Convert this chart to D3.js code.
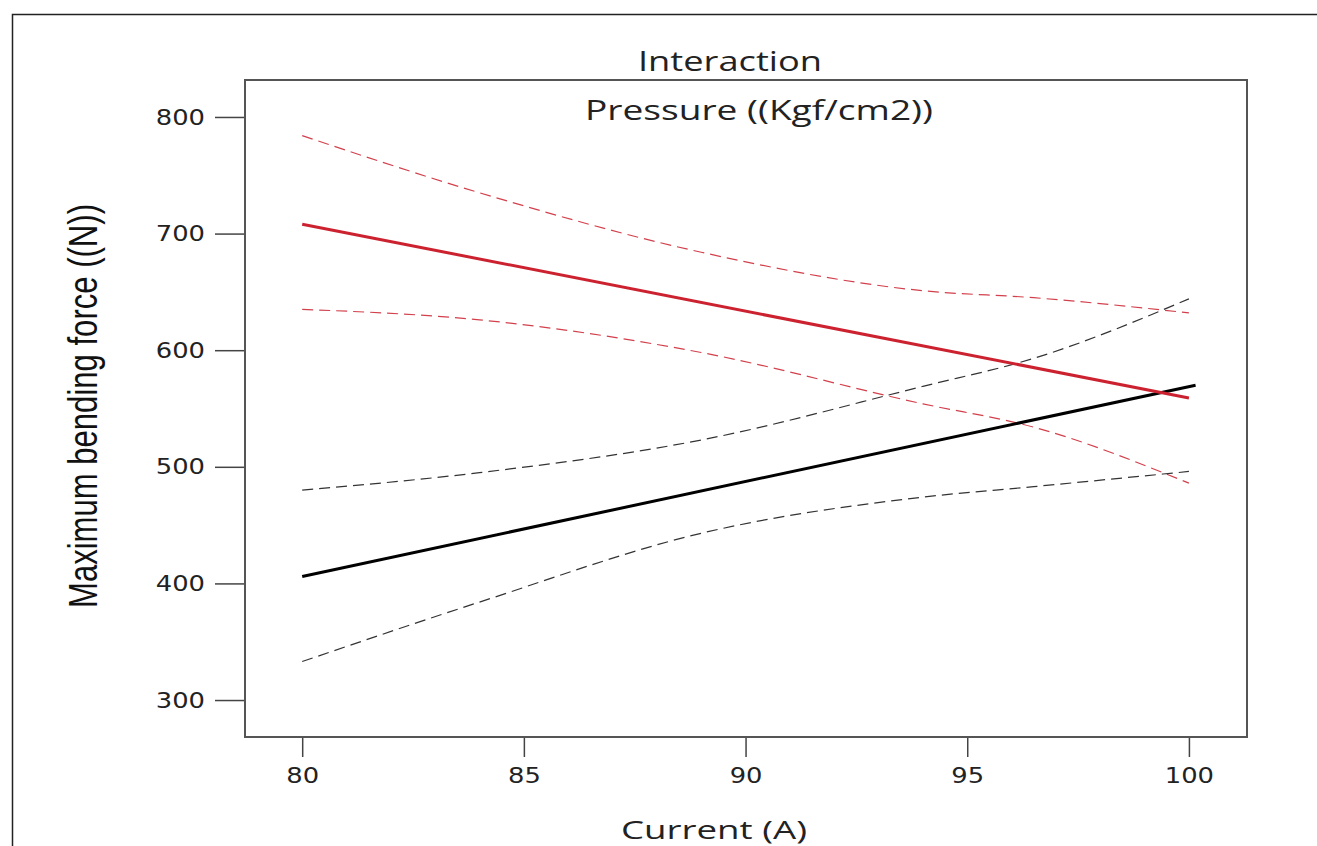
<!DOCTYPE html>
<html>
<head>
<meta charset="utf-8">
<script src="https://cdn.jsdelivr.net/npm/d3@7"></script>
<style>
  body { margin: 0; background: #fff; }
</style>
</head>
<body>
<div id="chart"></div>
<script>
// values
var bandX = [80, 84, 89, 94, 96.5, 100];
var redUpper = [784, 735, 684, 651, 645, 632];
var redLower = [635, 626, 598, 554, 534, 486];
var blackUpper = [480, 495, 523, 569, 593, 644];
var blackLower = [333, 384, 443, 474, 483, 496];

var redFitX = [80, 100];
var redFit = [708, 559];
var blackFitX = [80, 100.15];
var blackFit = [406, 570];

var xTicks = [80, 85, 90, 95, 100];
var yTicks = [300, 400, 500, 600, 700, 800];

var W = 1317, H = 846;
var frame = { left: 245, top: 80, right: 1247, bottom: 737 };

var svg = d3.select("#chart").append("svg")
    .attr("width", W)
    .attr("height", H);

// outer border (only top and left visible)
svg.append("path")
    .attr("d", "M12.5,846 L12.5,14.5 L1317,14.5")
    .attr("fill", "none")
    .attr("stroke", "#222")
    .attr("stroke-width", 1.5);

var x = d3.scaleLinear().domain([78.71, 101.31]).range([frame.left, frame.right]);
var y = d3.scaleLinear().domain([268.3, 831.7]).range([frame.bottom, frame.top]);

// y axis
var yAxis = svg.append("g")
    .attr("transform", "translate(" + frame.left + ",0)")
    .call(d3.axisLeft(y).tickValues(yTicks).tickSize(30).tickPadding(10));
yAxis.select(".domain").remove();

// x axis
var xAxis = svg.append("g")
    .attr("transform", "translate(0," + frame.bottom + ")")
    .call(d3.axisBottom(x).tickValues(xTicks).tickSize(20).tickPadding(10));
xAxis.select(".domain").remove();

svg.selectAll(".tick line").attr("stroke", "#444").attr("stroke-width", 1.5);
// the picture is stretched sideways, so labels are widened a bit
svg.selectAll(".tick text")
    .attr("fill", "#222")
    .style("font-family", "'DejaVu Sans', sans-serif")
    .style("font-size", "22px")
    .attr("textLength", function (d) { return String(d).length * 16.4; })
    .attr("lengthAdjust", "spacingAndGlyphs");

// plot frame
svg.append("rect")
    .attr("x", frame.left)
    .attr("y", frame.top)
    .attr("width", frame.right - frame.left)
    .attr("height", frame.bottom - frame.top)
    .attr("fill", "none")
    .attr("stroke", "#555")
    .attr("stroke-width", 2);

function series(xs, ys) {
  return xs.map(function (d, i) { return [d, ys[i]]; });
}

var band = d3.line()
    .x(function (d) { return x(d[0]); })
    .y(function (d) { return y(d[1]); })
    .curve(d3.curveMonotoneX);

var straight = d3.line()
    .x(function (d) { return x(d[0]); })
    .y(function (d) { return y(d[1]); });

var dashed = [
  { v: redUpper, c: "#d2404c" },
  { v: redLower, c: "#d2404c" },
  { v: blackUpper, c: "#333" },
  { v: blackLower, c: "#333" }
];

svg.selectAll(".band")
    .data(dashed)
    .enter().append("path")
    .attr("class", "band")
    .attr("d", function (d) { return band(series(bandX, d.v)); })
    .attr("fill", "none")
    .attr("stroke", function (d) { return d.c; })
    .attr("stroke-width", 1.2)
    .attr("stroke-dasharray", "11,6");

// fitted lines
svg.append("path")
    .attr("d", straight(series(blackFitX, blackFit)))
    .attr("fill", "none")
    .attr("stroke", "#000")
    .attr("stroke-width", 3);

svg.append("path")
    .attr("d", straight(series(redFitX, redFit)))
    .attr("fill", "none")
    .attr("stroke", "#cc2230")
    .attr("stroke-width", 3);

// titles
function label(txt, cx, cy, size, len) {
  return svg.append("text")
      .attr("x", cx)
      .attr("y", cy)
      .attr("text-anchor", "middle")
      .attr("textLength", len)
      .attr("lengthAdjust", "spacingAndGlyphs")
      .style("font-family", "'Open Sans', sans-serif")
      .style("font-size", size + "px")
      .attr("fill", "#222")
      .text(txt);
}

label("Interaction", 730, 71, 27, 184);
label("Pressure ((Kgf/cm2))", 759, 120, 28, 348);
label("Current (A)", 714, 839, 25, 186);

svg.append("text")
    .attr("transform", "translate(97,406) rotate(-90)")
    .attr("text-anchor", "middle")
    .attr("textLength", 404)
    .attr("lengthAdjust", "spacingAndGlyphs")
    .style("font-family", "'Liberation Sans', Arial, sans-serif")
    .style("font-size", "41px")
    .attr("fill", "#111")
    .text("Maximum bending force ((N))");
</script>
</body>
</html>
